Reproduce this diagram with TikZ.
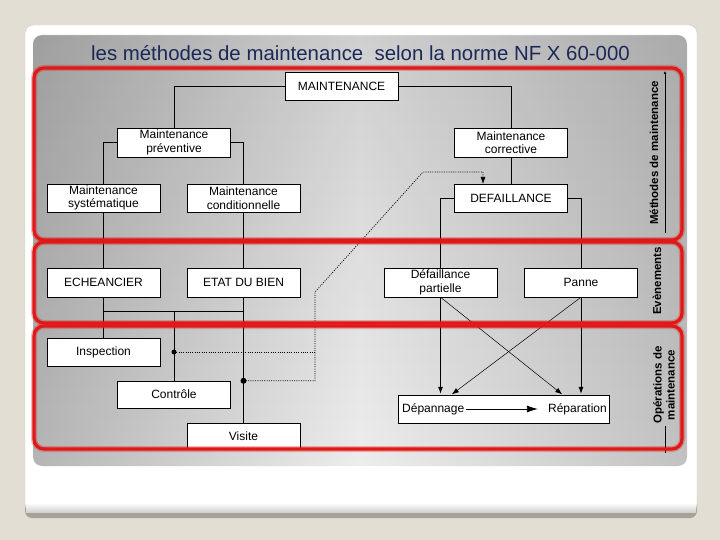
\documentclass[tikz,border=0pt]{standalone}
\usepackage{fontspec}
\setmainfont{Liberation Sans}
\usetikzlibrary{arrows.meta,fadings}
\definecolor{fond}{HTML}{E3DED3}
\definecolor{ombre}{HTML}{A7A299}
\definecolor{rouge}{HTML}{E01818}
\definecolor{marine}{HTML}{1B2858}
\begin{document}
\begin{tikzpicture}[x=1pt,y=-1pt,
    boite/.style={draw,fill=white,minimum width=113pt,minimum height=28pt,inner sep=0pt,
      align=center,font=\fontsize{12}{13.5}\selectfont},
    fil/.style={line width=0.8pt},
    fin/.style={line width=0.5pt},
    fleche/.style={-{Latex[length=7pt,width=5pt]}},
    pointille/.style={line width=0.7pt,dash pattern=on 1pt off 1.3pt},
    etiq/.style={rotate=90,font=\fontsize{11.5}{13}\selectfont\bfseries}]
    \useasboundingbox (0,0) rectangle (720,540);
    % fond, diapositive et panneau gris
    \fill[fond] (0,0) rectangle (720,540);
    \fill[ombre,rounded corners=7] (25,490) rectangle (697,518);
    \filldraw[fill=white,draw=ombre!60,rounded corners=8] (25,25) rectangle (697,512);
    \shade[top color=white,bottom color=gray!35] (26,503) rectangle (696,512);
    \shade[rounded corners=9,left color=gray!58,right color=gray!48,middle color=gray!14]
      (33,35) rectangle (687,466);
    \fill[black,opacity=0.12,path fading=south,rounded corners=9] (33,35) rectangle (687,466);
    \node[font=\fontsize{20.4}{24}\selectfont,text=marine,anchor=base] (titre) at (360.5,61)
      {les méthodes de maintenance~ selon la norme NF X 60-000};
    % boites
    \node[boite] (maint) at (341.5,86) {MAINTENANCE};
    \node[boite,minimum height=29pt] (prev) at (174,142.5) {Maintenance\\préventive};
    \node[boite,minimum height=29pt] (corr) at (511,142.5) {Maintenance\\corrective};
    \node[boite] (syst) at (103.5,198) {Maintenance\\systématique};
    \node[boite] (cond) at (243.5,198) {Maintenance\\conditionnelle};
    \node[boite] (defa) at (511,198) {DEFAILLANCE};
    \node[boite,minimum height=29pt] (echea) at (103.5,282.5) {ECHEANCIER};
    \node[boite,minimum height=29pt] (etat) at (243.5,282.5) {ETAT DU BIEN};
    \node[boite,minimum height=29pt] (dpart) at (440.5,282.5) {Défaillance\\partielle};
    \node[boite,minimum height=29pt] (panne) at (581,282.5) {Panne};
    \node[boite] (insp) at (103.5,352) {Inspection};
    \node[boite,minimum height=27pt] (ctrl) at (174,394.5) {Contrôle};
    \node[boite,minimum height=26pt] (visite) at (243.5,436) {Visite};
    \node[boite,minimum width=211pt] (oper) at (503.5,409) {};
    \node[anchor=west,inner sep=0pt,font=\fontsize{12}{14}\selectfont] (depan) at (402,409) {Dépannage};
    \node[anchor=east,inner sep=0pt,font=\fontsize{12}{14}\selectfont] (repar) at (607,409) {Réparation};
    % liaisons
    \draw[fil] (maint.west) -| (prev.north);
    \draw[fil] (maint.east) -| (corr.north);
    \draw[fil] (prev.west) -| (syst.north);
    \draw[fil] (prev.east) -| (cond.north);
    \draw[fil] (corr.south) -- (defa.north);
    \draw[fil] (defa.west) -| (dpart.north);
    \draw[fil] (defa.east) -| (panne.north);
    \draw[fil] (syst.south) -- (echea.north);
    \draw[fil] (cond.south) -- (etat.north);
    \draw[fil] (echea.south) -- (insp.north);
    \draw[fil] (etat.south) -- (visite.north);
    \coordinate (jonc) at (174,311);
    \draw[fil] (echea.south |- jonc) -- (etat.south |- jonc);
    \draw[fil] (jonc) -- (ctrl.north);
    \draw[fil,fleche,shorten >=1pt] (dpart.south) -- (dpart.south |- oper.north);
    \draw[fil,fleche,shorten >=1pt] (panne.south) -- (panne.south |- oper.north);
    \coordinate (pdep) at (451,395); \coordinate (prep) at (563,395);
    \draw[fin,fleche,shorten >=1pt] (dpart.south) -- (prep);
    \draw[fin,fleche,shorten >=1pt] (panne.south) -- (pdep);
    \draw[fil,-{Latex[length=11pt,width=7pt]},shorten <=2pt,shorten >=10pt] (depan.east) -- (repar.west);
    % chemin pointille vers la defaillance
    \coordinate (pinsp) at (jonc |- insp.east);
    \coordinate (pvis) at (etat.south |- ctrl.north);
    \coordinate (coude) at (315,292); \coordinate (haut) at (423,172);
    \coordinate (cible) at (483,184);
    \fill (pinsp) circle (2.5pt); \fill (pvis) circle (3pt);
    \draw[pointille] (pinsp) -- (pinsp -| coude);
    \draw[pointille,fleche] (pvis) -- (pvis -| coude) -- (coude) -- (haut) -- (cible |- haut) -- (cible);
    % axe et etiquettes
    \draw[fil,-{Latex[length=3pt,width=3pt]}] (665,233) -- (665,71);
    \draw[fil] (665,426) -- (665,453);
    \node[etiq] (lmeth) at (654,153) {Méthodes de maintenance};
    \node[etiq] (levt) at (657,281) {Evènements};
    \node[etiq,align=center] (lop) at (664,385) {Opérations de\\maintenance};
    % bandes rouges
    \foreach \ya/\yb in {68/240,242/323,326/449} {
      \draw[rouge,opacity=0.3,line width=6pt,rounded corners=10] (34,\ya) rectangle (682,\yb);
      \draw[rouge,line width=3.2pt,rounded corners=10] (34,\ya) rectangle (682,\yb);
    }
\end{tikzpicture}
\end{document}
